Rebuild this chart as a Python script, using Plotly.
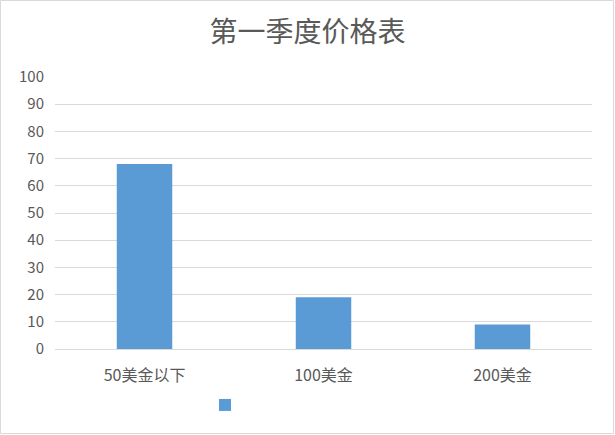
import plotly.graph_objects as go

categories = ["50美金以下", "100美金", "200美金"]
values = [68, 19, 9]
y_ticks = [0, 10, 20, 30, 40, 50, 60, 70, 80, 90, 100]

W, H = 615, 435
ML, MR, MT, MB = 55, 23, 77, 86

fig = go.Figure()
fig.add_trace(go.Bar(
    x=categories, y=values, name="", width=0.31,
    marker=dict(color="#5B9BD5", line=dict(width=0)),
    showlegend=True,
))

pw = W - ML - MR
ph = H - MT - MB
fig.update_layout(
    width=W, height=H,
    margin=dict(l=ML, r=MR, t=MT, b=MB),
    paper_bgcolor="white", plot_bgcolor="white",
    font=dict(family="Noto Sans CJK SC, sans-serif", color="#595959", size=13),
    title=dict(text="第一季度价格表", x=0.5, xanchor="center", y=1 - 32 / H, yanchor="middle",
               font=dict(size=28, color="#595959", family="Noto Sans CJK SC")),
    xaxis=dict(showgrid=False, showline=True, linecolor="#D9D9D9", linewidth=1,
               ticks="", tickfont=dict(size=16, color="#595959"), ticklabelstandoff=12),
    yaxis=dict(range=[0, 100], tickvals=y_ticks, showgrid=True, gridcolor="#D9D9D9",
               gridwidth=1, zeroline=False, showline=False, ticks="",
               tickfont=dict(size=15, color="#595959"), ticklabelstandoff=10),
    showlegend=True,
    legend=dict(orientation="h", x=(225 - ML - 20) / pw, xanchor="left",
                y=-(405 - MT - ph) / ph, yanchor="middle",
                font=dict(size=13), bgcolor="rgba(0,0,0,0)"),
    shapes=[dict(type="rect", xref="paper", yref="paper",
                 x0=-(ML - 0.5) / pw, x1=1 + (MR - 1.5) / pw,
                 y0=-(MB - 1.5) / ph, y1=1 + (MT - 0.5) / ph,
                 line=dict(color="#D9D9D9", width=1), fillcolor="rgba(0,0,0,0)", layer="below")],
    bargap=0.69,
)

fig.write_html("out.html", config={"displayModeBar": False},
               post_script="document.body.style.margin='0';document.body.style.overflow='hidden';")
